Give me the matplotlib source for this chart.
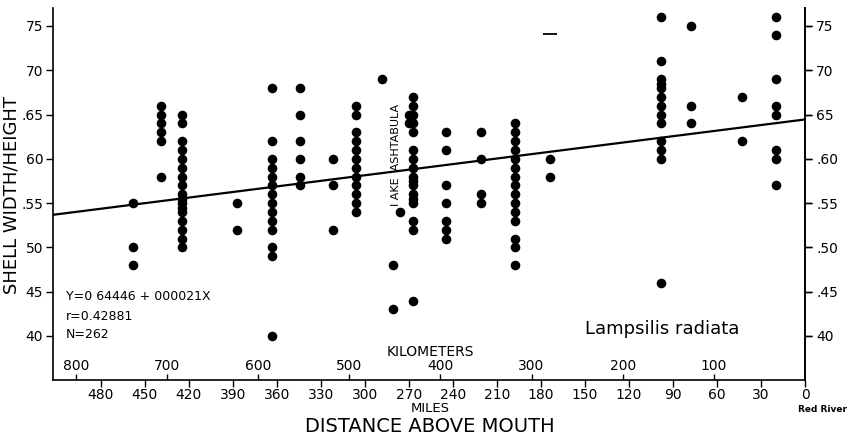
import matplotlib
matplotlib.use("Agg")
import matplotlib.pyplot as plt
import numpy as np

# ---- data ----
col_miles = [458, 439, 425, 387, 363, 344, 322, 306, 288, 276, 281, 267, 270,
             245, 221, 198, 174, 98, 78, 43, 20]
col_values = [
    [0.55, 0.50, 0.48],
    [0.66, 0.65, 0.64, 0.63, 0.62, 0.58],
    [0.65, 0.64, 0.62, 0.61, 0.60, 0.59, 0.58, 0.57, 0.56, 0.555, 0.55, 0.545,
     0.54, 0.53, 0.52, 0.51, 0.50],
    [0.55, 0.52],
    [0.68, 0.62, 0.60, 0.59, 0.58, 0.57, 0.56, 0.55, 0.54, 0.53, 0.52, 0.50,
     0.49, 0.40],
    [0.68, 0.65, 0.62, 0.60, 0.58, 0.57],
    [0.60, 0.57, 0.52],
    [0.66, 0.65, 0.63, 0.62, 0.61, 0.60, 0.59, 0.58, 0.57, 0.56, 0.55, 0.54],
    [0.69],
    [0.54],
    [0.48, 0.43],
    [0.67, 0.66, 0.65, 0.64, 0.63, 0.61, 0.60, 0.59, 0.58, 0.575, 0.57, 0.56,
     0.555, 0.55, 0.53, 0.52, 0.44],
    [0.65, 0.64],
    [0.63, 0.61, 0.57, 0.55, 0.53, 0.52, 0.51],
    [0.63, 0.60, 0.56, 0.55],
    [0.64, 0.63, 0.62, 0.61, 0.60, 0.59, 0.58, 0.57, 0.56, 0.55, 0.54, 0.53,
     0.51, 0.50, 0.48],
    [0.60, 0.58],
    [0.76, 0.71, 0.69, 0.685, 0.68, 0.67, 0.66, 0.65, 0.64, 0.62, 0.61, 0.60,
     0.46],
    [0.75, 0.66, 0.64],
    [0.67, 0.62],
    [0.76, 0.74, 0.69, 0.66, 0.65, 0.61, 0.60, 0.57],
]
dash_mile, dash_value = 174, 0.741

reg_intercept = 0.64446
reg_slope = -0.00021   # per mile (rises toward the mouth)

y_ticks = [0.75, 0.70, 0.65, 0.60, 0.55, 0.50, 0.45, 0.40]
y_labels_left = ["75", "70", ".65", "60", ".55", "50", "45", "40"]
y_labels_right = ["75", "70", "65", ".60", ".55", ".50", ".45", "40"]
mile_ticks = [480, 450, 420, 390, 360, 330, 300, 270, 240, 210, 180, 150,
              120, 90, 60, 30, 0]
km_ticks = [800, 700, 600, 500, 400, 300, 200, 100]
KM_PER_MILE = 1.609344

# ---- figure ----
plt.rcParams['font.family'] = ['DejaVu Sans']
fig = plt.figure(figsize=(8.47, 4.38), dpi=100)
ax = fig.add_axes([53 / 847, 58 / 438, (805 - 53) / 847, (380 - 8) / 438])

for m, vals in zip(col_miles, col_values):
    ax.scatter([m] * len(vals), vals, s=48, color='black', zorder=3,
               linewidths=0)
ax.plot([dash_mile], [dash_value], marker='_', markersize=10, color='black',
        markeredgewidth=1.3)

xs = np.array([515, 0])
ax.plot(xs, reg_intercept + reg_slope * xs, color='black', lw=1.6, zorder=2)

ax.set_xlim(512.6, 0)
ax.set_ylim(0.3503, 0.7703)

ax.spines['top'].set_visible(False)
for s in ['left', 'right', 'bottom']:
    ax.spines[s].set_linewidth(1.2)

ax.set_yticks(y_ticks)
ax.set_yticklabels(y_labels_left, fontsize=10)
ax.tick_params(axis='y', direction='out', length=5, width=1, pad=2,
               right=True, labelright=False)

ax.set_xticks(mile_ticks)
ax.set_xticklabels([str(t) for t in mile_ticks], fontsize=10)
ax.tick_params(axis='x', direction='out', length=5, width=1, pad=1)

# right tick labels
axr = ax.secondary_yaxis('right')
axr.set_yticks(y_ticks)
axr.set_yticklabels(y_labels_right, fontsize=10)
axr.tick_params(direction='out', length=5, width=1, pad=3)
axr.spines['right'].set_linewidth(1.2)

# kilometers scale inside, above the bottom spine
sec = ax.secondary_xaxis(0.0, functions=(lambda m: m * KM_PER_MILE,
                                         lambda k: k / KM_PER_MILE))
sec.xaxis.set_ticks_position('top')
sec.set_xticks(km_ticks)
sec.set_xticklabels([str(k) for k in km_ticks], fontsize=10)
sec.tick_params(axis='x', direction='out', length=4, width=1, pad=1)
sec.spines['top'].set_visible(False)
sec.spines['bottom'].set_visible(False)

# texts
fig.text(430 / 847, 1 - 352 / 438, "KILOMETERS", ha='center', va='center',
         fontsize=10)
fig.text(430 / 847, 1 - 409 / 438, "MILES", ha='center', va='center',
         fontsize=9.5)
fig.text(430 / 847, 1 - 427 / 438, "DISTANCE ABOVE MOUTH", ha='center',
         va='center', fontsize=14)
fig.text(12 / 847, 1 - 195 / 438, "SHELL WIDTH/HEIGHT", ha='center',
         va='center', fontsize=13, rotation=90)
fig.text(822 / 847, 1 - 410 / 438, "Red River", ha='center', va='center',
         fontsize=6.5, fontweight='bold')
fig.text(662 / 847, 1 - 329 / 438, "Lampsilis radiata", ha='center',
         va='center', fontsize=13)
fig.text(66 / 847, 1 - 296 / 438, "Y=0 64446 + 000021X", ha='left',
         va='center', fontsize=9)
fig.text(66 / 847, 1 - 316 / 438, "r=0.42881", ha='left', va='center',
         fontsize=9)
fig.text(66 / 847, 1 - 334 / 438, "N=262", ha='left', va='center',
         fontsize=9)
fig.text(396 / 847, 1 - 155 / 438, "I AKE  ASHTABULA", ha='center',
         va='center', fontsize=8, rotation=90)

fig.savefig("out.png", dpi=100)
